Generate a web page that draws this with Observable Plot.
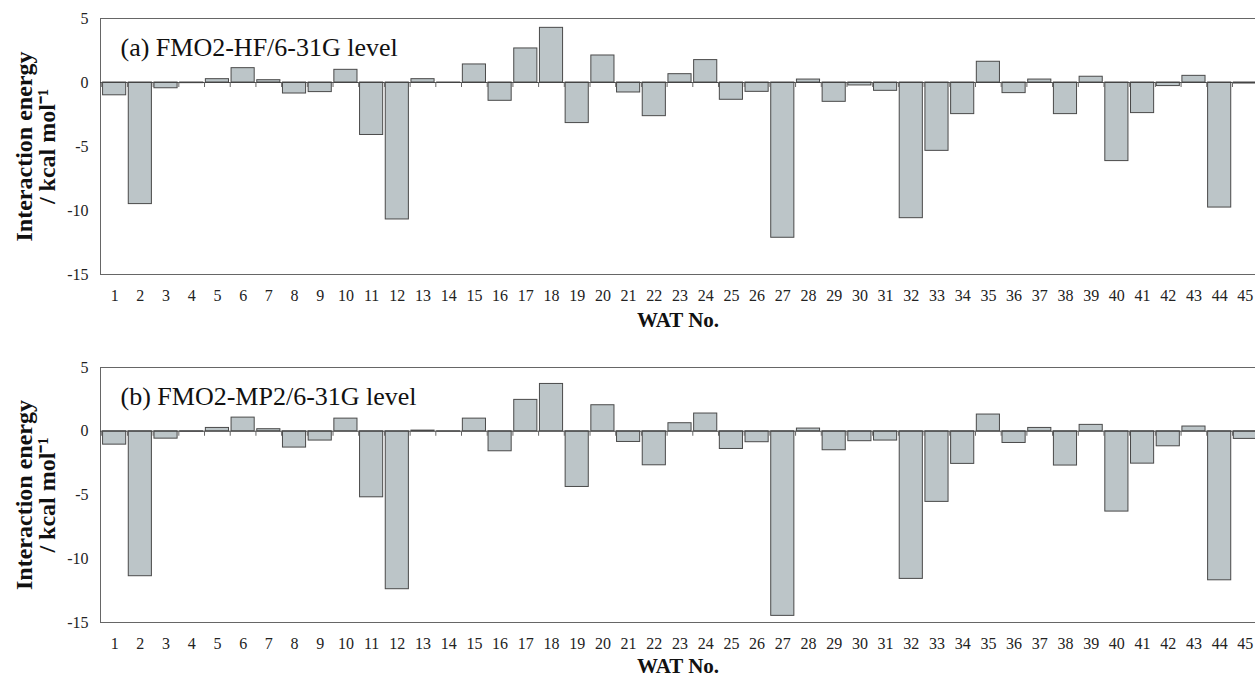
<!DOCTYPE html>
<html>
<head>
<meta charset="utf-8">
<script src="https://cdn.jsdelivr.net/npm/d3@7"></script>
<script src="https://cdn.jsdelivr.net/npm/@observablehq/plot@0.6"></script>
<style>
  html, body { margin: 0; padding: 0; background: #fff; overflow: hidden; }
  #chart svg { display: block; }
</style>
</head>
<body>
<div id="chart"></div>
<script>
const watNo = d3.range(1, 46);
const hfValues = [
  -1.0, -9.5, -0.45, -0.05, 0.26, 1.12, 0.18, -0.86, -0.75, 0.99,
  -4.1, -10.7, 0.26, -0.03, 1.41, -1.43, 2.66, 4.27, -3.17, 2.11,
  -0.78, -2.63, 0.65, 1.75, -1.35, -0.73, -12.13, 0.23, -1.51, -0.23,
  -0.65, -10.6, -5.34, -2.47, 1.62, -0.83, 0.23, -2.47, 0.45, -6.14,
  -2.39, -0.28, 0.52, -9.77, -0.08
];
const mp2Values = [
  -1.05, -11.37, -0.58, -0.03, 0.26, 1.07, 0.16, -1.28, -0.73, 0.99,
  -5.18, -12.39, 0.05, -0.02, 0.99, -1.57, 2.46, 3.71, -4.37, 2.04,
  -0.84, -2.67, 0.63, 1.39, -1.39, -0.86, -14.48, 0.21, -1.49, -0.78,
  -0.73, -11.58, -5.54, -2.56, 1.31, -0.92, 0.26, -2.69, 0.50, -6.3,
  -2.54, -1.18, 0.37, -11.69, -0.6
];
const yTicks = [5, 0, -5, -10, -15];
const panelTitles = ["(a) FMO2-HF/6-31G level", "(b) FMO2-MP2/6-31G level"];
const yLabelLines = ["Interaction energy", "/ kcal mol\u207B\u00B9"];
const xLabel = "WAT No.";

const FONT = "'Liberation Serif', 'Times New Roman', serif";

function panel(values, title, height, marginTop, marginBottom, xLabelDy) {
  const data = watNo.map((w, i) => ({w, v: values[i]}));
  return Plot.plot({
    width: 1255,
    height,
    marginTop,
    marginBottom,
    marginLeft: 100,
    marginRight: 0,
    style: {fontFamily: FONT, fontSize: "16px", color: "#222", background: "#fff"},
    x: {type: "band", domain: watNo, range: [100, 1259], padding: 0.1, align: 0.5},
    y: {domain: [-15, 5], ticks: yTicks},
    axis: null,
    marks: [
      Plot.frame({stroke: "#666", strokeWidth: 1}),
      Plot.axisY({ticks: yTicks, tickSize: 0, tickPadding: 12, fontSize: 16, label: null, tickFormat: d => d}),
      Plot.axisX({tickSize: 0, tickPadding: 15, fontSize: 16, label: null}),
      Plot.barY(data, {x: "w", y: "v", fill: "#bcc5c8", stroke: "#4a4a4a", strokeWidth: 1}),
      Plot.ruleY([0], {stroke: "#444", strokeWidth: 1.2}),
      Plot.ruleX(watNo, {x: d => d, y1: 0, y2: 0, insetBottom: -5, dx: -12.9, stroke: "#666", strokeWidth: 1}),
      Plot.text([title], {frameAnchor: "top-left", dx: 20, dy: 29, lineAnchor: "middle", textAnchor: "start", fontSize: 26, fill: "#111"}),
      Plot.text([yLabelLines[0]], {frameAnchor: "left", dx: -76, rotate: -90, textAnchor: "middle", lineAnchor: "middle", fontSize: 24, fontWeight: "bold", fill: "#111"}),
      Plot.text([yLabelLines[1]], {frameAnchor: "left", dx: -53, rotate: -90, textAnchor: "middle", lineAnchor: "middle", fontSize: 24, fontWeight: "bold", fill: "#111"}),
      Plot.text([xLabel], {frameAnchor: "bottom", dy: xLabelDy, lineAnchor: "middle", fontSize: 21, fontWeight: "bold", fill: "#111"})
    ]
  });
}

const chart = document.getElementById("chart");
chart.append(panel(hfValues, panelTitles[0], 340, 18, 66, 46));
chart.append(panel(mp2Values, panelTitles[1], 339, 27, 57, 44));
</script>
</body>
</html>
